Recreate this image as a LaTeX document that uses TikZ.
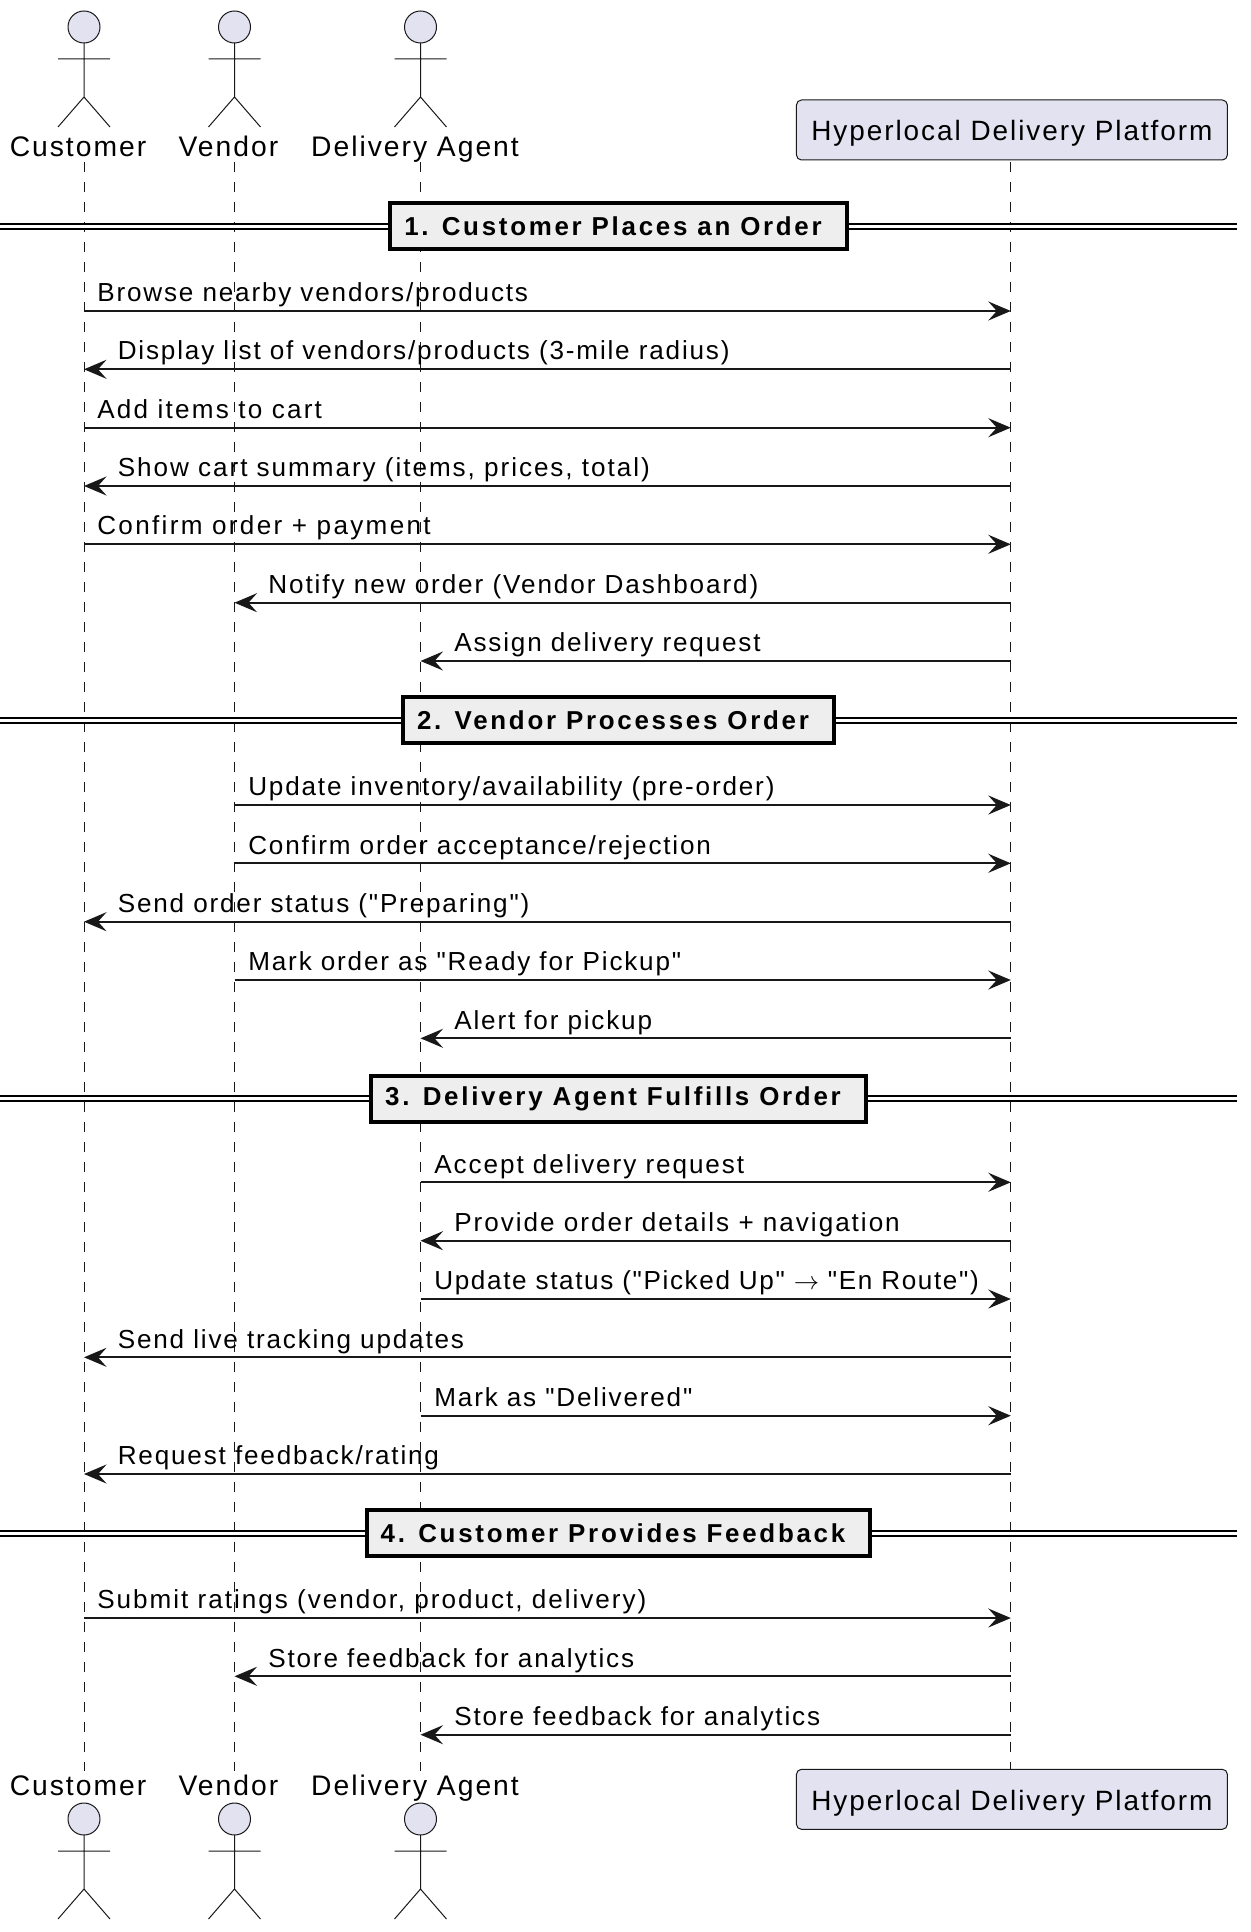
\documentclass[tikz,border=0pt]{standalone}
\usepackage{fontspec}
\setmainfont[LetterSpace=7,Ligatures=TeXOff]{Liberation Sans}
\newfontfamily\secfont[LetterSpace=10.5,Ligatures=TeXOff]{Liberation Sans}
\newcommand{\spaced}[1]{\addfontfeature{LetterSpace=#1}}
\usetikzlibrary{arrows.meta}
\definecolor{inkline}{HTML}{181818}
\definecolor{actorfill}{HTML}{E2E2F0}
\definecolor{sectionfill}{HTML}{EEEEEE}
\tikzset{
    lifeline/.style={draw=inkline,line width=0.02cm,dash pattern=on 0.2cm off 0.2cm},
    msg/.style={draw=inkline,line width=0.044cm,-{Stealth[length=0.45cm,width=0.38cm,inset=0.17cm]}},
    msgtext/.style={anchor=base west,inner sep=0pt,yshift=-0.014cm,font=\fontsize{14.85}{17}\selectfont},
    actorname/.style={anchor=base,inner sep=0pt,font=\fontsize{16.1}{18}\selectfont},
    platbox/.style={draw=inkline,fill=actorfill,line width=0.02cm,rounded corners=0.1cm,minimum width=8.62cm,minimum height=1.2cm,inner sep=0pt,text height=0.46cm,text depth=0.02cm,font=\fontsize{15.9}{18}\selectfont},
    sectionbox/.style={draw=black,fill=sectionfill,line width=0.08cm,minimum height=0.92cm,inner xsep=0.28cm,inner ysep=0pt,font=\fontsize{14.75}{17}\secfont\bfseries,execute at end node=\hspace{0.22cm}},
    sectionrule/.style={draw=black,line width=0.04cm,double=white,double distance=0.06cm},
    actorman/.pic={
        \draw[draw=inkline,fill=actorfill,line width=0.02cm] (0,16) circle[radius=0.32cm];
        \draw[draw=inkline,line width=0.02cm] (0,32)--(0,86) (-26,48)--(26,48) (-26,116)--(0,86)--(26,116);
    }
}
\begin{document}
\begin{tikzpicture}[x=0.02cm,y=-0.02cm]
    \useasboundingbox (0,0) rectangle (1250,1932);
    % lifelines
    \coordinate (custA) at (84,162); \coordinate (custB) at (84,1771);
    \coordinate (vendA) at (234.5,162); \coordinate (vendB) at (234.5,1771);
    \coordinate (agentA) at (420.5,162); \coordinate (agentB) at (420.5,1771);
    \coordinate (platA) at (1010.8,162); \coordinate (platB) at (1010.8,1771);
    \draw[lifeline] (custA)--(custB);
    \draw[lifeline] (vendA)--(vendB);
    \draw[lifeline] (agentA)--(agentB);
    \draw[lifeline] (platA)--(platB);
    % actors and platform, top
    \pic at (84,11) {actorman};
    \pic at (234.5,11) {actorman};
    \pic at (420.5,11) {actorman};
    \node[actorname] (custTop) at (78,156.5) {Customer};
    \node[actorname] (vendTop) at (228.5,156.5) {Vendor};
    \node[actorname] (agentTop) at (415,156.5) {Delivery Agent};
    \node[platbox] (platTop) at (1011.9,130) {Hyperlocal Delivery Platform};
    % actors and platform, bottom
    \pic at (84,1803) {actorman};
    \pic at (234.5,1803) {actorman};
    \pic at (420.5,1803) {actorman};
    \node[actorname] (custBot) at (78,1795.3) {Customer};
    \node[actorname] (vendBot) at (228.5,1795.3) {Vendor};
    \node[actorname] (agentBot) at (415,1795.3) {Delivery Agent};
    \node[platbox] (platBot) at (1011.9,1799.3) {Hyperlocal Delivery Platform};
    % section rules
    \coordinate (ruleLa) at (0,226.3); \coordinate (ruleRa) at (1237,226.3);
    \coordinate (ruleLb) at (0,720.3); \coordinate (ruleRb) at (1237,720.3);
    \coordinate (ruleLc) at (0,1098.6); \coordinate (ruleRc) at (1237,1098.6);
    \coordinate (ruleLd) at (0,1533.3); \coordinate (ruleRd) at (1237,1533.3);
    \draw[sectionrule] (ruleLa)--(ruleRa);
    \draw[sectionrule] (ruleLb)--(ruleRb);
    \draw[sectionrule] (ruleLc)--(ruleRc);
    \draw[sectionrule] (ruleLd)--(ruleRd);
    \node[sectionbox] (secA) at (618.5,226) {1. Customer Places an Order};
    \node[sectionbox] (secB) at (618.5,720) {2. Vendor Processes Order};
    \node[sectionbox] (secC) at (618.5,1098.6) {3. Delivery Agent Fulfills Order};
    \node[sectionbox] (secD) at (618.5,1533) {4. Customer Provides Feedback};
    % section 1
    \coordinate (r1) at (0,311); \coordinate (r2) at (0,369.3); \coordinate (r3) at (0,427.7); \coordinate (r4) at (0,486);
    \coordinate (r5) at (0,544.3); \coordinate (r6) at (0,602.7); \coordinate (r7) at (0,661);
    \draw[msg] (custA|-r1)--(platA|-r1);
    \draw[msg] (platA|-r2)--(custA|-r2);
    \draw[msg] (custA|-r3)--(platA|-r3);
    \draw[msg] (platA|-r4)--(custA|-r4);
    \draw[msg] (custA|-r5)--(platA|-r5);
    \draw[msg] (platA|-r6)--(vendA|-r6);
    \draw[msg] (platA|-r7)--(agentA|-r7);
    \node[msgtext] (m1) at (97,301) {Browse nearby vendors/products};
    \node[msgtext] (m2) at (117.5,359.3) {Display list of vendors/products (3-mile radius)};
    \node[msgtext] (m3) at (97,417.7) {\spaced{8.5}Add items to cart};
    \node[msgtext] (m4) at (117.5,476) {\spaced{7.5}Show cart summary (items, prices, total)};
    \node[msgtext] (m5) at (97,534.3) {\spaced{8.9}Confirm order + payment};
    \node[msgtext] (m6) at (268,592.7) {\spaced{7.4}Notify new order (Vendor Dashboard)};
    \node[msgtext] (m7) at (454,651) {Assign delivery request};
    % section 2
    \coordinate (r8) at (0,805); \coordinate (r9) at (0,863.3); \coordinate (r10) at (0,921.7);
    \coordinate (r11) at (0,980); \coordinate (r12) at (0,1038.3);
    \draw[msg] (vendA|-r8)--(platA|-r8);
    \draw[msg] (vendA|-r9)--(platA|-r9);
    \draw[msg] (platA|-r10)--(custA|-r10);
    \draw[msg] (vendA|-r11)--(platA|-r11);
    \draw[msg] (platA|-r12)--(agentA|-r12);
    \node[msgtext] (m8) at (248,795) {Update inventory/availability (pre-order)};
    \node[msgtext] (m9) at (248,853.3) {Confirm order acceptance/rejection};
    \node[msgtext] (m10) at (117.5,911.7) {Send order status ("Preparing")};
    \node[msgtext] (m11) at (248,970) {Mark order as "Ready for Pickup"};
    \node[msgtext] (m12) at (454,1028.3) {Alert for pickup};
    % section 3
    \coordinate (r13) at (0,1182.3); \coordinate (r14) at (0,1240.7); \coordinate (r15) at (0,1299);
    \coordinate (r16) at (0,1357.3); \coordinate (r17) at (0,1415.7); \coordinate (r18) at (0,1474);
    \draw[msg] (agentA|-r13)--(platA|-r13);
    \draw[msg] (platA|-r14)--(agentA|-r14);
    \draw[msg] (agentA|-r15)--(platA|-r15);
    \draw[msg] (platA|-r16)--(custA|-r16);
    \draw[msg] (agentA|-r17)--(platA|-r17);
    \draw[msg] (platA|-r18)--(custA|-r18);
    \node[msgtext] (m13) at (434,1172.3) {\spaced{7.4}Accept delivery request};
    \node[msgtext] (m14) at (454,1230.7) {\spaced{7.6}Provide order details + navigation};
    \node[msgtext] (m15) at (434,1289) {\spaced{6.3}Update status ("Picked Up" \(\rightarrow\) "En Route")};
    \node[msgtext] (m16) at (117.5,1347.3) {Send live tracking updates};
    \node[msgtext] (m17) at (434,1405.7) {Mark as "Delivered"};
    \node[msgtext] (m18) at (117.5,1464) {Request feedback/rating};
    % section 4
    \coordinate (r19) at (0,1618); \coordinate (r20) at (0,1676.3); \coordinate (r21) at (0,1734.7);
    \draw[msg] (custA|-r19)--(platA|-r19);
    \draw[msg] (platA|-r20)--(vendA|-r20);
    \draw[msg] (platA|-r21)--(agentA|-r21);
    \node[msgtext] (m19) at (97,1608) {\spaced{7.6}Submit ratings (vendor, product, delivery)};
    \node[msgtext] (m20) at (268,1666.3) {Store feedback for analytics};
    \node[msgtext] (m21) at (454,1724.7) {Store feedback for analytics};
\end{tikzpicture}
\end{document}
